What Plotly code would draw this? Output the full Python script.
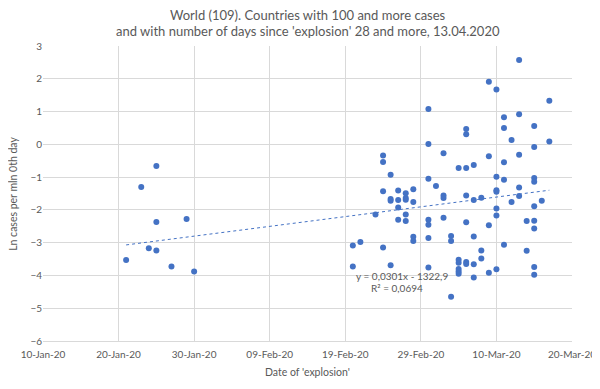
import numpy as np
import pandas as pd
import plotly.graph_objects as go

# Data: date of 'explosion' and Ln cases per mln at 0th day
dates = (
    ["2020-01-21", "2020-01-23", "2020-01-24", "2020-01-25", "2020-01-25", "2020-01-25",
     "2020-01-27", "2020-01-29", "2020-01-30"]
    + ["2020-02-20"] * 2 + ["2020-02-21"] + ["2020-02-23"] + ["2020-02-24"] * 4
    + ["2020-02-25"] * 4 + ["2020-02-26"] * 4 + ["2020-02-27"] * 5 + ["2020-02-28"] * 4
    + ["2020-03-01"] * 7 + ["2020-03-02"] + ["2020-03-03"] * 4 + ["2020-03-04"] * 3
    + ["2020-03-05"] * 6 + ["2020-03-06"] * 7 + ["2020-03-07"] * 5 + ["2020-03-08"] * 3
    + ["2020-03-09"] * 4 + ["2020-03-10"] * 7 + ["2020-03-11"] * 5 + ["2020-03-12"] * 2
    + ["2020-03-13"] * 5 + ["2020-03-14"] * 2 + ["2020-03-15"] * 9 + ["2020-03-16"]
    + ["2020-03-17"] * 2
)
ln_cases = (
    [-3.53, -1.30, -3.17, -0.66, -2.37, -3.24, -3.73, -2.28, -3.88]
    + [-3.09, -3.73] + [-2.98] + [-2.14] + [-0.34, -0.54, -1.43, -3.15]
    + [-0.93, -1.67, -1.72, -3.69] + [-1.41, -1.70, -1.93, -2.30]
    + [-1.49, -1.64, -1.69, -2.14, -2.34] + [-1.37, -1.76, -2.82, -2.95]
    + [1.08, 0.01, -1.05, -2.30, -2.45, -2.86, -3.76] + [-1.27]
    + [-0.27, -1.56, -1.64, -2.24] + [-2.80, -2.95, -4.65]
    + [-0.72, -3.52, -3.61, -3.80, -3.88, -3.95]
    + [0.47, 0.31, -0.72, -1.56, -2.38, -3.59, -3.65]
    + [-0.63, -1.70, -2.81, -3.66, -4.06] + [-1.63, -3.24, -3.48]
    + [1.91, -0.36, -2.47, -3.92]
    + [1.67, -0.99, -1.40, -1.45, -1.96, -2.17, -3.81]
    + [0.83, 0.50, -0.55, -1.08, -3.06] + [0.13, -1.76]
    + [2.57, 0.92, -0.32, -1.32, -1.58] + [-2.34, -3.25]
    + [0.56, -0.08, -1.03, -1.14, -1.89, -2.33, -2.57, -3.74, -3.98]
    + [-1.72] + [1.33, 0.09]
)
title_lines = ["World (109). Countries with 100 and more cases",
               "and with number of days since 'explosion' 28 and more, 13.04.2020"]
x_title = "Date of 'explosion'"
y_title = "Ln cases per mln 0th day"
equation_text = "y = 0,0301x - 1322,9"
r2_text = "R² = 0,0694"

x = pd.to_datetime(dates)
# Linear trend fitted on Excel-like serial day numbers
epoch = pd.Timestamp("1899-12-30")
serial = (x - epoch).days.values.astype(float)
slope, intercept = np.polyfit(serial, np.array(ln_cases), 1)
trend_serial = np.array([serial.min(), serial.max()])
trend_x = epoch + pd.to_timedelta(trend_serial, unit="D")
trend_y = slope * trend_serial + intercept

blue = "#4472C4"
grey_text = "#595959"
grid = "#D9D9D9"
font_family = "Lato, Carlito, Calibri, sans-serif"

fig = go.Figure()
fig.add_trace(go.Scatter(x=trend_x, y=trend_y, mode="lines",
                         line=dict(color=blue, width=1, dash="dot"),
                         hoverinfo="skip", showlegend=False))
fig.add_trace(go.Scatter(x=x, y=ln_cases, mode="markers",
                         marker=dict(color=blue, size=6),
                         showlegend=False))

# Trendline label
fig.add_annotation(x="2020-02-26 12:00", y=-4.03, text=equation_text,
                   showarrow=False, font=dict(size=10, color=grey_text, family=font_family),
                   xanchor="center", yanchor="middle")
fig.add_annotation(x="2020-02-25 21:00", y=-4.37, text=r2_text,
                   showarrow=False, font=dict(size=10, color=grey_text, family=font_family),
                   xanchor="center", yanchor="middle")

# Title lines
fig.add_annotation(xref="paper", yref="paper", x=0.5, y=1.105, text=title_lines[0],
                   showarrow=False, font=dict(size=13, color=grey_text, family=font_family),
                   xanchor="center", yanchor="middle")
fig.add_annotation(xref="paper", yref="paper", x=0.5, y=1.051, text=title_lines[1],
                   showarrow=False, font=dict(size=13, color=grey_text, family=font_family),
                   xanchor="center", yanchor="middle")
# Axis titles
fig.add_annotation(xref="paper", yref="paper", x=0.5, y=-0.105, text=x_title,
                   showarrow=False, font=dict(size=10.5, color=grey_text, family=font_family),
                   xanchor="center", yanchor="middle")
fig.add_annotation(xref="paper", yref="paper", x=-0.058, y=0.5, text=y_title,
                   textangle=-90, showarrow=False,
                   font=dict(size=10.5, color=grey_text, family=font_family),
                   xanchor="center", yanchor="middle")

# The page body keeps its default 8px margin, so the figure is sized to fit the window.
fig.update_layout(
    width=592, height=381,
    margin=dict(l=35, r=28, t=38, b=48, autoexpand=False),
    paper_bgcolor="white", plot_bgcolor="white",
    font=dict(family=font_family, color=grey_text, size=10),
    showlegend=False,
)
fig.update_xaxes(
    type="date", range=["2020-01-10", "2020-03-20"],
    tick0="2020-01-10", dtick=10 * 24 * 3600 * 1000, tickformat="%d-%b-%y",
    showgrid=True, gridcolor=grid, gridwidth=1, zeroline=False,
    showline=True, linecolor=grid, ticks="", automargin=False,
    ticklabelstandoff=4,
    tickfont=dict(size=10, color=grey_text, family=font_family),
)
fig.update_yaxes(
    range=[-6, 3], dtick=1, tick0=0,
    showgrid=True, gridcolor=grid, gridwidth=1, zeroline=False,
    showline=False, ticks="", automargin=False,
    tickfont=dict(size=10, color=grey_text, family=font_family),
)

fig.write_html("out.html")
